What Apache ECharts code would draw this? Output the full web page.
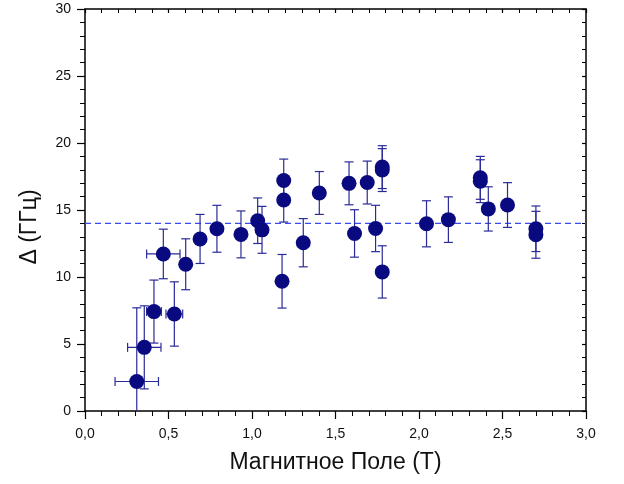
<!DOCTYPE html>
<html lang="ru">
<head>
<meta charset="UTF-8">
<title>gap vs field</title>
<script src="https://cdn.jsdelivr.net/npm/echarts@6/dist/echarts.min.js"></script>
<style>
  html, body { margin: 0; padding: 0; background: #fff; }
</style>
</head>
<body>
<div id="container" style="width:624px;height:484px"></div>
<script>
// magnetic field, T
var fieldX = [0.31, 0.355, 0.413, 0.469, 0.535, 0.603, 0.689, 0.79, 0.934, 1.034,
              1.06, 1.19, 1.19, 1.18, 1.307, 1.403, 1.581, 1.69, 1.78, 1.78,
              1.614, 1.74, 1.78, 2.045, 2.176, 2.367, 2.367, 2.415, 2.53, 2.70, 2.70];
// gap, GHz
var delta = [2.2, 4.75, 7.42, 11.72, 7.24, 10.95, 12.84, 13.6, 13.18, 14.2,
             13.52, 17.2, 15.75, 9.68, 12.56, 16.27, 16.99, 17.05, 18.2, 17.98,
             13.25, 13.62, 10.38, 13.97, 14.28, 17.4, 17.15, 15.08, 15.37, 13.6, 13.15];
var errY = [5.5, 3.1, 2.35, 1.85, 2.4, 1.9, 1.83, 1.75, 1.75, 1.7,
            1.75, 1.6, 1.65, 2.0, 1.8, 1.6, 1.6, 1.6, 1.6, 1.6,
            1.77, 1.73, 1.95, 1.72, 1.7, 1.6, 1.6, 1.65, 1.67, 1.7, 1.75];
var errX = [0.13, 0.1, 0.044, 0.1, 0.05, 0, 0, 0, 0, 0,
            0, 0, 0, 0, 0, 0, 0, 0, 0, 0,
            0, 0, 0, 0, 0, 0, 0, 0, 0, 0, 0];
var fitLevel = 14.0;
var xTicks = ['0,0', '0,5', '1,0', '1,5', '2,0', '2,5', '3,0'];

var points = [], bars = [];
for (var i = 0; i < fieldX.length; i++) {
    points.push([fieldX[i], delta[i]]);
    bars.push([fieldX[i], delta[i], errX[i], errY[i]]);
}

var barColor = '#2a2a98';
function renderBars(params, api) {
    var x = api.value(0), y = api.value(1), ex = api.value(2), ey = api.value(3);
    var top = api.coord([x, y + ey]);
    var bot = api.coord([x, y - ey]);
    var cap = 4.5;
    var st = { stroke: barColor, lineWidth: 1.2 };
    var kids = [
        { type: 'line', shape: { x1: top[0], y1: top[1], x2: bot[0], y2: bot[1] }, style: st },
        { type: 'line', shape: { x1: top[0] - cap, y1: top[1], x2: top[0] + cap, y2: top[1] }, style: st },
        { type: 'line', shape: { x1: bot[0] - cap, y1: bot[1], x2: bot[0] + cap, y2: bot[1] }, style: st }
    ];
    if (ex > 0) {
        var l = api.coord([x - ex, y]);
        var r = api.coord([x + ex, y]);
        kids.push({ type: 'line', shape: { x1: l[0], y1: l[1], x2: r[0], y2: r[1] }, style: st });
        kids.push({ type: 'line', shape: { x1: l[0], y1: l[1] - cap, x2: l[0], y2: l[1] + cap }, style: st });
        kids.push({ type: 'line', shape: { x1: r[0], y1: r[1] - cap, x2: r[0], y2: r[1] + cap }, style: st });
    }
    return { type: 'group', children: kids };
}

var fontName = 'Liberation Sans, Arial, sans-serif';
var axisFont = { fontFamily: fontName, fontSize: 14, color: '#111' };
var lineStyle = { color: '#000', width: 1.5 };

var myChart = echarts.init(document.getElementById('container'));
myChart.setOption({
    backgroundColor: '#fff',
    animation: false,
    grid: { left: 85, right: 38, top: 9, bottom: 73 },
    xAxis: [{
        type: 'value', min: 0, max: 3, interval: 0.5, position: 'bottom',
        name: 'Магнитное Поле (T)', nameLocation: 'middle', nameGap: 40,
        nameTextStyle: { fontFamily: fontName, fontSize: 23, color: '#111' },
        axisLine: { onZero: false, lineStyle: lineStyle },
        axisTick: { inside: false, length: 8, lineStyle: { color: '#000', width: 1.2 } },
        minorTick: { show: true, splitNumber: 5, length: 5, lineStyle: { color: '#000', width: 1 } },
        axisLabel: Object.assign({ margin: 16, formatter: function (v) { return xTicks[Math.round(v / 0.5)]; } }, axisFont),
        splitLine: { show: false }
    }, {
        type: 'value', min: 0, max: 3, interval: 0.5, position: 'top',
        axisLine: { onZero: false, lineStyle: lineStyle },
        axisTick: { inside: true, length: 4, lineStyle: { color: '#000', width: 1.2 } },
        minorTick: { show: true, splitNumber: 5, length: 4, lineStyle: { color: '#000', width: 1 } },
        axisLabel: { show: false },
        splitLine: { show: false }
    }],
    yAxis: [{
        type: 'value', min: 0, max: 30, interval: 5, position: 'left',
        name: 'Δ (ГГц)', nameLocation: 'middle', nameGap: 44, nameRotate: 90,
        nameTextStyle: { fontFamily: fontName, fontSize: 23, color: '#111', padding: [0, 34, 0, 0] },
        axisLine: { onZero: false, lineStyle: lineStyle },
        axisTick: { inside: false, length: 8, lineStyle: { color: '#000', width: 1.2 } },
        minorTick: { show: true, splitNumber: 5, length: 5, lineStyle: { color: '#000', width: 1 } },
        axisLabel: Object.assign({ margin: 14 }, axisFont),
        splitLine: { show: false }
    }, {
        type: 'value', min: 0, max: 30, interval: 5, position: 'right',
        axisLine: { onZero: false, lineStyle: lineStyle },
        axisTick: { inside: true, length: 4, lineStyle: { color: '#000', width: 1.2 } },
        minorTick: { show: true, splitNumber: 5, length: 4, lineStyle: { color: '#000', width: 1 } },
        axisLabel: { show: false },
        splitLine: { show: false }
    }],
    series: [{
        type: 'line',
        data: [[0, fitLevel], [3, fitLevel]],
        symbol: 'none',
        lineStyle: { color: '#3a4cf0', width: 1.4, type: [6, 4] },
        z: 1
    }, {
        type: 'custom',
        renderItem: renderBars,
        data: bars,
        encode: { x: 0, y: 1 },
        clip: true,
        z: 2
    }, {
        type: 'scatter',
        data: points,
        symbol: 'circle',
        symbolSize: 15,
        itemStyle: { color: '#0a0a80', opacity: 1 },
        z: 3
    }]
});
</script>
</body>
</html>
